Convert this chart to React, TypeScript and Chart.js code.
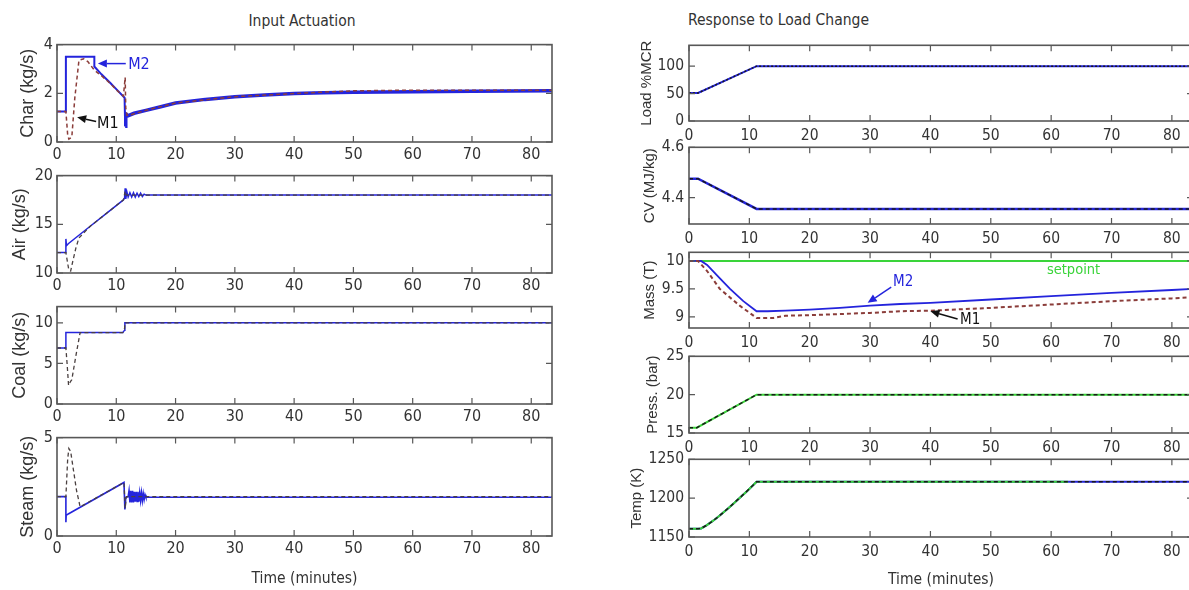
import React, { useEffect, useRef } from 'react';
import { Chart, registerables } from 'chart.js';
Chart.register(...registerables);

// ---------------- data ----------------
const X_MAX = 83.5;
const xTicks = [0, 10, 20, 30, 40, 50, 60, 70, 80];

// Input Actuation — Char (kg/s)
const charTicks = [0, 2, 4];
const charM2T = [0, 1.5, 1.5, 6.3, 6.3, 7.5, 9.0, 10.2, 11.4, 11.5, 11.6, 12, 13, 15, 17.5, 20, 25, 30, 35, 40, 45, 50, 60, 70, 83.5];
const charM2 = [1.25, 1.25, 3.5, 3.5, 3.1, 2.78, 2.42, 2.12, 1.82, 0.65, 1.15, 1.08, 1.18, 1.3, 1.45, 1.6, 1.75, 1.86, 1.93, 1.99, 2.02, 2.04, 2.06, 2.08, 2.1];
const charM1T = [0, 1.5, 1.8, 2.0, 2.5, 3.0, 3.7, 4.5, 5.2, 6.3, 7.5, 9.0, 10.2, 11.2, 11.5, 11.6, 11.8, 12.2, 15, 20, 30, 40, 45, 50, 60, 70, 83.5];
const charM1 = [1.25, 1.25, 0.3, 0.12, 0.2, 1.8, 3.35, 3.42, 3.3, 2.95, 2.72, 2.4, 2.1, 1.88, 2.65, 1.4, 1.1, 1.1, 1.3, 1.6, 1.86, 1.99, 2.05, 2.1, 2.13, 2.13, 2.13];

// Air (kg/s)
const airTicks = [10, 15, 20];
const airM2T = [0, 1.5, 1.5, 1.6, 1.9, 5.6, 8.5, 11.2, 11.4, 11.5, 11.6, 11.8, 12.0, 12.3, 12.6, 12.9, 13.2, 13.5, 13.8, 14.1, 14.4, 14.7, 15.0, 83.5];
const airM2 = [12.1, 12.1, 13.5, 12.8, 13.0, 14.8, 16.2, 17.5, 17.7, 18.7, 17.6, 18.3, 17.8, 18.25, 17.8, 18.25, 17.8, 18.2, 17.85, 18.2, 17.85, 18.1, 18.0, 18.0];
const airM1T = [0, 1.5, 1.8, 2.0, 2.3, 2.7, 3.2, 3.7, 5.6, 11.2, 11.5, 11.7, 83.5];
const airM1 = [12.1, 12.1, 11.0, 10.3, 10.2, 11.3, 12.6, 13.6, 14.8, 17.5, 18.4, 18.0, 18.0];

// Coal (kg/s)
const coalTicks = [0, 5, 10];
const coalM2T = [0, 1.5, 1.5, 11.1, 11.4, 11.45, 83.5];
const coalM2 = [6.9, 6.9, 8.8, 8.8, 9.1, 10.0, 10.0];
const coalM1T = [0, 1.5, 1.7, 1.95, 2.3, 2.5, 3.2, 3.9, 11.1, 11.4, 11.45, 83.5];
const coalM1 = [6.9, 6.9, 5.0, 2.3, 2.8, 3.0, 6.0, 8.8, 8.8, 9.3, 10.0, 10.0];

// Steam (kg/s)
const steamTicks = [0, 5];
const steamM2T = [0, 1.5, 1.5, 1.55, 1.9, 11.3, 11.45, 11.6, 12.0, 12.15, 12.3, 12.45, 12.6, 12.75, 12.9, 13.05, 13.2, 13.35, 13.5, 13.65, 13.8, 13.95, 14.1, 14.25, 14.4, 14.55, 14.7, 14.85, 15.0, 83.5];
const steamM2 = [2.0, 2.0, 0.7, 1.05, 1.12, 2.72, 1.35, 1.95, 2.0, 2.3, 1.7, 2.3, 1.7, 2.3, 1.7, 2.25, 1.75, 2.25, 1.75, 2.25, 1.75, 2.2, 1.8, 2.2, 1.8, 2.15, 1.85, 2.1, 1.97, 1.97];
const steamM1T = [0, 1.5, 1.8, 2.0, 2.3, 2.8, 3.3, 3.6, 3.9, 11.3, 11.5, 11.7, 83.5];
const steamM1 = [2.0, 2.0, 3.9, 4.45, 4.3, 3.3, 2.3, 1.9, 1.48, 2.72, 1.4, 2.0, 2.0];

// Response to Load Change — Load %MCR
const loadTicks = [0, 50, 100];
const loadT = [0, 1.5, 11.2, 83.5];
const loadM2 = [51, 51, 100, 100];
const loadM1 = [51, 51, 100, 100];

// CV (MJ/kg)
const cvTicks = [4.4, 4.6];
const cvT = [0, 1.5, 11.2, 83.5];
const cvM2 = [4.475, 4.475, 4.355, 4.355];
const cvM1 = [4.475, 4.475, 4.355, 4.355];

// Mass (T)
const massTicks = [9, 9.5, 10];
const massSetT = [0, 83.5];
const massSet = [10, 10];
const massM2T = [0, 2, 3, 5, 6.8, 9, 11.2, 13, 16, 20, 25, 30, 35, 40, 50, 60, 70, 80, 83.5];
const massM2 = [10, 10, 9.93, 9.7, 9.5, 9.28, 9.1, 9.1, 9.11, 9.13, 9.16, 9.2, 9.23, 9.25, 9.31, 9.37, 9.43, 9.48, 9.5];
const massM1T = [0, 1.5, 3, 5.1, 8.4, 11.2, 14, 16, 20, 25, 30, 35, 40, 50, 60, 70, 80, 83.5];
const massM1 = [10, 10, 9.82, 9.5, 9.2, 8.98, 8.98, 9.02, 9.03, 9.05, 9.07, 9.1, 9.11, 9.16, 9.22, 9.28, 9.33, 9.35];

// Press. (bar)
const pressTicks = [15, 20, 25];
const pressT = [0, 1.3, 11.2, 83.5];
const pressM2 = [15.7, 15.7, 20, 20];
const pressM1 = [15.7, 15.7, 20, 20];

// Temp (K)
const tempTicks = [1150, 1200, 1250];
const tempT = [0, 1.5, 2.0, 2.9, 4.0, 5.0, 6.8, 9.6, 11.2, 83.5];
const tempM2 = [1160.5, 1160.5, 1161, 1165, 1171, 1177, 1189, 1209, 1221, 1221];
const tempRefT = [0, 1.5, 2.0, 2.9, 4.0, 5.0, 6.8, 9.6, 11.2, 62.8];
const tempRef = [1160.5, 1160.5, 1161, 1165, 1171, 1177, 1189, 1209, 1221, 1221];
const tempM1 = [1160.5, 1160.5, 1161, 1165, 1171, 1177, 1189, 1209, 1221, 1221];

// ---------------- style ----------------
const NARROW = "'Liberation Sans Narrow', 'Arial Narrow', 'DejaVu Sans Condensed', 'Liberation Sans', Arial, sans-serif";
const REGULAR = "'Liberation Sans', Arial, sans-serif";
const BLUE = '#2424dc';
const BROWN = '#8b3d3a';
const GREYD = '#4a4040';
const GREEN = '#3ad43a';
const DARK = '#1a1a1a';
const AXIS = '#585858';
const TEXT = '#333333';

type Line = { t: number[]; v: number[]; color: string; width: number; dash?: number[]; wideAfter?: number; wideWidth?: number };
type Note = { text: string; color: string; size: number; at: [number, number]; from?: [number, number]; to?: [number, number] };
type Spec = {
  id: string; box: [number, number, number, number]; padL: number; padT: number; padR: number; padB: number;
  yMin: number; yMax: number; yTicks: number[]; yTitle: string; yTitleSize: number; tickSize: number;
  xPad: number; yPad: number; xTitle?: string; lines: Line[]; notes?: Note[];
};

const frame = {
  id: 'frame',
  afterDatasetsDraw(chart: any, _args: any, opts: any) {
    const { ctx, chartArea: a, scales } = chart;
    const xs = scales.x, ys = scales.y;
    const len = 6;
    ctx.save();
    ctx.strokeStyle = AXIS;
    ctx.lineWidth = 1.2;
    ctx.beginPath();
    xs.ticks.forEach((tk: any) => {
      const p = xs.getPixelForValue(tk.value);
      ctx.moveTo(p, a.bottom); ctx.lineTo(p, a.bottom - len);
      ctx.moveTo(p, a.top); ctx.lineTo(p, a.top + len);
    });
    ys.ticks.forEach((tk: any) => {
      const p = ys.getPixelForValue(tk.value);
      ctx.moveTo(a.left, p); ctx.lineTo(a.left + len, p);
      ctx.moveTo(a.right, p); ctx.lineTo(a.right - len, p);
    });
    ctx.stroke();
    ctx.lineWidth = 1.6;
    ctx.strokeRect(a.left, a.top, a.right - a.left, a.bottom - a.top);
    (opts.notes || []).forEach((n: Note) => {
      ctx.fillStyle = n.color;
      ctx.strokeStyle = n.color;
      if (n.from && n.to) {
        const x0 = xs.getPixelForValue(n.from[0]), y0 = ys.getPixelForValue(n.from[1]);
        const x1 = xs.getPixelForValue(n.to[0]), y1 = ys.getPixelForValue(n.to[1]);
        const ang = Math.atan2(y1 - y0, x1 - x0);
        const hl = 9, hw = 4;
        const bx = x1 - hl * Math.cos(ang), by = y1 - hl * Math.sin(ang);
        ctx.lineWidth = 1.5;
        ctx.beginPath(); ctx.moveTo(x0, y0); ctx.lineTo(bx, by); ctx.stroke();
        ctx.beginPath();
        ctx.moveTo(x1, y1);
        ctx.lineTo(bx + hw * Math.sin(ang), by - hw * Math.cos(ang));
        ctx.lineTo(bx - hw * Math.sin(ang), by + hw * Math.cos(ang));
        ctx.closePath(); ctx.fill();
      }
      ctx.font = `${n.size}px ${NARROW}`;
      ctx.textAlign = 'left';
      ctx.textBaseline = 'middle';
      ctx.fillText(n.text, xs.getPixelForValue(n.at[0]), ys.getPixelForValue(n.at[1]));
    });
    ctx.restore();
  },
};

function buildConfig(s: Spec): any {
  const n = s.lines.length;
  return {
    type: 'line',
    data: {
      datasets: s.lines.map((l, i) => ({
        data: l.t.map((x, k) => ({ x, y: l.v[k] })),
        borderColor: l.color,
        borderWidth: l.width,
        borderDash: l.dash || [],
        pointRadius: 0,
        fill: false,
        tension: 0,
        order: n - i,
        segment: l.wideAfter !== undefined
          ? { borderWidth: (c: any) => (c.p0.parsed.x >= (l.wideAfter as number) ? l.wideWidth : l.width) }
          : undefined,
      })),
    },
    options: {
      responsive: false,
      animation: false,
      devicePixelRatio: 1,
      events: [],
      layout: { padding: { top: s.padT, right: s.padR, left: 0, bottom: 0 } },
      plugins: { legend: { display: false }, tooltip: { enabled: false }, frame: { notes: s.notes || [] } },
      scales: {
        x: {
          type: 'linear', min: 0, max: X_MAX,
          grid: { display: false, drawTicks: false }, border: { display: false },
          ticks: { font: { family: NARROW, size: s.tickSize }, color: TEXT, padding: s.xPad, autoSkip: false, maxRotation: 0, includeBounds: false },
          afterBuildTicks: (sc: any) => { sc.ticks = xTicks.map((v) => ({ value: v })); },
          afterFit: (sc: any) => { sc.height = s.padB; },
          title: { display: !!s.xTitle, text: s.xTitle || '', font: { family: NARROW, size: 15.5 }, color: TEXT, padding: 0 },
        },
        y: {
          type: 'linear', min: s.yMin, max: s.yMax,
          grid: { display: false, drawTicks: false }, border: { display: false },
          ticks: { font: { family: NARROW, size: s.tickSize }, color: TEXT, padding: s.yPad, autoSkip: false, includeBounds: false, callback: (v: any) => String(v) },
          afterBuildTicks: (sc: any) => { sc.ticks = s.yTicks.map((v) => ({ value: v })); },
          afterFit: (sc: any) => { sc.width = s.padL; },
          title: { display: true, text: s.yTitle, font: { family: REGULAR, size: s.yTitleSize }, color: TEXT, padding: 0 },
        },
      },
    },
    plugins: [frame],
  };
}

const LBOX = (t: number, b: number): [number, number, number, number] => [57, t, 552, b];
const RBOX = (t: number, b: number): [number, number, number, number] => [689, t, 1193, b];

const leftCommon = { padT: 12, padR: 12, padB: 30, yTitleSize: 18, tickSize: 16, xPad: 3, yPad: 4 };
const rightCommon = { padT: 12, padR: 8, padB: 30, yTitleSize: 15, tickSize: 15.5, xPad: 6, yPad: 5 };

const specs: Spec[] = [
  {
    id: 'char', box: LBOX(43, 142), padL: 40, ...leftCommon, yMin: 0, yMax: 4, yTicks: charTicks, yTitle: 'Char (kg/s)',
    lines: [
      { t: charM2T, v: charM2, color: BLUE, width: 2, wideAfter: 11.5, wideWidth: 3.5 },
      { t: charM1T, v: charM1, color: BROWN, width: 1.5, dash: [4, 3] },
    ],
    notes: [
      { text: 'M2', color: BLUE, size: 16, at: [12.0, 3.18], from: [11.6, 3.22], to: [6.9, 3.22] },
      { text: 'M1', color: '#111111', size: 16, at: [6.75, 0.76], from: [6.6, 0.84], to: [3.4, 1.02] },
    ],
  },
  {
    id: 'air', box: LBOX(174, 273), padL: 48, ...leftCommon, yMin: 10, yMax: 20, yTicks: airTicks, yTitle: 'Air (kg/s)',
    lines: [
      { t: airM2T, v: airM2, color: BLUE, width: 1.5 },
      { t: airM1T, v: airM1, color: GREYD, width: 1.3, dash: [4, 3] },
    ],
  },
  {
    id: 'coal', box: LBOX(305, 404), padL: 48, ...leftCommon, yMin: 0, yMax: 12, yTicks: coalTicks, yTitle: 'Coal (kg/s)',
    lines: [
      { t: coalM2T, v: coalM2, color: BLUE, width: 1.5 },
      { t: coalM1T, v: coalM1, color: GREYD, width: 1.3, dash: [4, 3] },
    ],
  },
  {
    id: 'steam', box: LBOX(436, 536), padL: 40, ...leftCommon, padB: 52, yMin: 0, yMax: 5, yTicks: steamTicks, yTitle: 'Steam (kg/s)', xTitle: 'Time (minutes)',
    lines: [
      { t: steamM2T, v: steamM2, color: BLUE, width: 1.6 },
      { t: steamM1T, v: steamM1, color: GREYD, width: 1.3, dash: [4, 3] },
    ],
  },
  {
    id: 'load', box: RBOX(43, 121), padL: 51, ...rightCommon, yMin: 0, yMax: 138, yTicks: loadTicks, yTitle: 'Load %MCR',
    lines: [
      { t: loadT, v: loadM2, color: BLUE, width: 2 },
      { t: loadT, v: loadM1, color: DARK, width: 1.5, dash: [2, 2] },
    ],
  },
  {
    id: 'cv', box: RBOX(145, 224), padL: 48, ...rightCommon, yMin: 4.295, yMax: 4.6, yTicks: cvTicks, yTitle: 'CV (MJ/kg)',
    lines: [
      { t: cvT, v: cvM2, color: BLUE, width: 2.5 },
      { t: cvT, v: cvM1, color: DARK, width: 1.5, dash: [4, 3] },
    ],
  },
  {
    id: 'mass', box: RBOX(250, 328), padL: 48, ...rightCommon, yMin: 8.8, yMax: 10.155, yTicks: massTicks, yTitle: 'Mass (T)',
    lines: [
      { t: massSetT, v: massSet, color: GREEN, width: 2 },
      { t: massM2T, v: massM2, color: BLUE, width: 1.8 },
      { t: massM1T, v: massM1, color: BROWN, width: 2, dash: [4, 3] },
    ],
    notes: [
      { text: 'M2', color: BLUE, size: 15, at: [33.8, 9.62], from: [33.5, 9.53], to: [29.6, 9.25] },
      { text: 'M1', color: '#111111', size: 15, at: [44.9, 8.94], from: [44.5, 8.96], to: [40.0, 9.1] },
      { text: 'setpoint', color: GREEN, size: 14.5, at: [59.3, 9.84] },
    ],
  },
  {
    id: 'press', box: RBOX(354, 433), padL: 45, ...rightCommon, yMin: 15, yMax: 25, yTicks: pressTicks, yTitle: 'Press. (bar)',
    lines: [
      { t: pressT, v: pressM2, color: GREEN, width: 2 },
      { t: pressT, v: pressM1, color: DARK, width: 1.5, dash: [4, 3] },
    ],
  },
  {
    id: 'temp', box: RBOX(457, 537), padL: 61, ...rightCommon, padB: 52, yMin: 1150, yMax: 1250, yTicks: tempTicks, yTitle: 'Temp (K)', xTitle: 'Time (minutes)',
    lines: [
      { t: tempT, v: tempM2, color: BLUE, width: 2 },
      { t: tempRefT, v: tempRef, color: GREEN, width: 2 },
      { t: tempT, v: tempM1, color: DARK, width: 1.5, dash: [4, 3] },
    ],
  },
];

function SubPlot({ spec }: { spec: Spec }) {
  const ref = useRef<HTMLCanvasElement>(null);
  const [L, T, R, B] = spec.box;
  const w = R - L + spec.padL + spec.padR;
  const h = B - T + spec.padT + spec.padB;
  useEffect(() => {
    const chart = new Chart(ref.current as HTMLCanvasElement, buildConfig(spec));
    return () => chart.destroy();
  }, []);
  return (
    <canvas
      ref={ref}
      width={w}
      height={h}
      style={{ position: 'absolute', left: L - spec.padL, top: T - spec.padT, width: w, height: h }}
    />
  );
}

export default function App() {
  return (
    <div style={{ position: 'absolute', left: 0, top: 0, width: 1189, height: 590, overflow: 'hidden', background: '#ffffff' }}>
      <div style={{ position: 'absolute', left: 302, top: 21, transform: 'translate(-50%, -50%)', font: `15.5px ${NARROW}`, color: TEXT, whiteSpace: 'nowrap' }}>
        Input Actuation
      </div>
      <div style={{ position: 'absolute', left: 688, top: 20, transform: 'translateY(-50%)', font: `15.5px ${NARROW}`, color: TEXT, whiteSpace: 'nowrap' }}>
        Response to Load Change
      </div>
      {specs.map((s) => (
        <SubPlot key={s.id} spec={s} />
      ))}
    </div>
  );
}
